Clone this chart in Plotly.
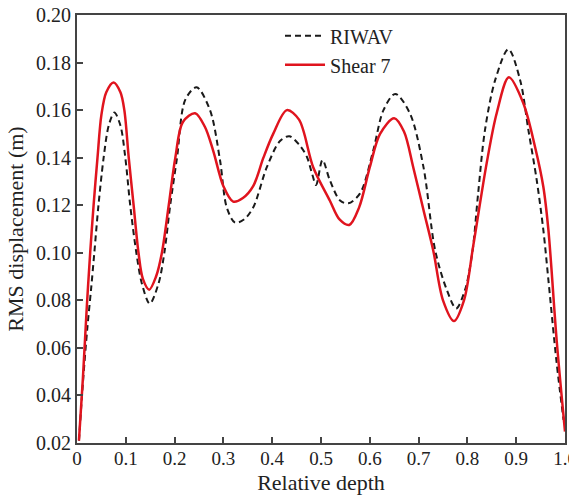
import plotly.graph_objects as go

# Relative depth / RMS displacement (m)
riwav_x = [0.004, 0.012, 0.021, 0.029, 0.0355, 0.044, 0.0546, 0.065, 0.0765, 0.089, 0.099, 0.109,
           0.1216, 0.133, 0.149, 0.167, 0.179, 0.191, 0.205, 0.222, 0.245, 0.2725, 0.293, 0.307,
           0.324, 0.342, 0.361, 0.389, 0.416, 0.435, 0.455, 0.471, 0.482, 0.490, 0.503, 0.518,
           0.539, 0.556, 0.580, 0.607, 0.628, 0.652, 0.682, 0.710, 0.734, 0.758, 0.777, 0.795,
           0.810, 0.822, 0.836, 0.857, 0.884, 0.908, 0.925, 0.942, 0.9556, 0.966, 0.983, 0.997]
riwav_y = [0.021, 0.045, 0.068, 0.085, 0.100, 0.120, 0.140, 0.1535, 0.159, 0.1535, 0.140, 0.120,
           0.100, 0.087, 0.0786, 0.087, 0.100, 0.120, 0.140, 0.1644, 0.1696, 0.160, 0.139, 0.119,
           0.1127, 0.114, 0.119, 0.136, 0.147, 0.149, 0.1455, 0.1404, 0.133, 0.1285, 0.139, 0.1306,
           0.122, 0.1208, 0.125, 0.143, 0.160, 0.1668, 0.1587, 0.136, 0.101, 0.0843, 0.0766, 0.0843,
           0.100, 0.125, 0.1516, 0.1727, 0.1856, 0.1727, 0.1516, 0.1306, 0.1096, 0.0885, 0.0535, 0.0297]

shear7_x = [0.004, 0.012, 0.020, 0.027, 0.034, 0.042, 0.050, 0.060, 0.075, 0.089, 0.097, 0.106,
            0.116, 0.126, 0.135, 0.148, 0.162, 0.174, 0.188, 0.2015, 0.217, 0.242, 0.262, 0.279,
            0.300, 0.320, 0.340, 0.361, 0.382, 0.402, 0.430, 0.455, 0.484, 0.518, 0.538, 0.558,
            0.578, 0.600, 0.621, 0.650, 0.670, 0.689, 0.710, 0.730, 0.750, 0.7725, 0.793, 0.812,
            0.8395, 0.860, 0.885, 0.9146, 0.9385, 0.9556, 0.966, 0.983, 1.0]
shear7_y = [0.021, 0.047, 0.077, 0.100, 0.120, 0.140, 0.158, 0.1675, 0.1716, 0.1675, 0.160, 0.140,
            0.120, 0.100, 0.089, 0.0845, 0.090, 0.100, 0.120, 0.140, 0.155, 0.1587, 0.153, 0.143,
            0.128, 0.1215, 0.123, 0.128, 0.140, 0.150, 0.160, 0.156, 0.136, 0.122, 0.114, 0.1117,
            0.119, 0.136, 0.150, 0.1566, 0.151, 0.136, 0.118, 0.101, 0.080, 0.0713, 0.080, 0.103,
            0.1377, 0.1587, 0.1738, 0.1629, 0.1446, 0.1278, 0.1096, 0.063, 0.0248]

x_ticks = [0, 0.1, 0.2, 0.3, 0.4, 0.5, 0.6, 0.7, 0.8, 0.9, 1.0]
x_tick_labels = ["0", "0.1", "0.2", "0.3", "0.4", "0.5", "0.6", "0.7", "0.8", "0.9", "1.0"]
y_ticks = [0.02, 0.04, 0.06, 0.08, 0.10, 0.12, 0.14, 0.16, 0.18, 0.20]
y_tick_labels = ["0.02", "0.04", "0.06", "0.08", "0.10", "0.12", "0.14", "0.16", "0.18", "0.20"]

FONT = "'Liberation Serif', 'Times New Roman', 'DejaVu Serif', serif"
TXT = "#222222"

fig = go.Figure()
fig.add_trace(go.Scatter(x=riwav_x, y=riwav_y, mode="lines", name="RIWAV",
                         line=dict(color="#1a1a1a", width=2, dash="6px,4px", shape="spline", smoothing=0.9)))
fig.add_trace(go.Scatter(x=shear7_x, y=shear7_y, mode="lines", name="Shear 7",
                         line=dict(color="#e0141e", width=2.5, shape="spline", smoothing=0.9)))

axis_common = dict(showgrid=False, zeroline=False, showline=True, linecolor="#444444",
                   linewidth=2, mirror=True, ticks="inside", ticklen=6, tickwidth=1.5,
                   tickcolor="#444444", ticklabeloverflow="allow", automargin=False)

fig.update_xaxes(range=[0, 1.0], tickvals=x_ticks, ticktext=x_tick_labels,
                 tickfont=dict(family=FONT, size=19, color=TXT), ticklabelstandoff=-3,
                 title=dict(text="Relative depth", font=dict(family=FONT, size=22, color=TXT), standoff=9),
                 **axis_common)
fig.update_yaxes(range=[0.02, 0.20], tickvals=y_ticks, ticktext=y_tick_labels,
                 tickfont=dict(family=FONT, size=20, color=TXT),
                 title=dict(text="RMS displacement (m)", font=dict(family=FONT, size=22, color=TXT), standoff=6),
                 **axis_common)

fig.update_layout(
    width=569, height=495,
    margin=dict(l=77, r=4, t=15, b=52, autoexpand=False),
    paper_bgcolor="white", plot_bgcolor="white",
    showlegend=True,
    legend=dict(x=0.416, y=0.997, xanchor="left", yanchor="top", bgcolor="rgba(0,0,0,0)",
                borderwidth=0, font=dict(family=FONT, size=20, color=TXT),
                itemwidth=40, tracegroupgap=0),
)

fig.write_html("out.html")
